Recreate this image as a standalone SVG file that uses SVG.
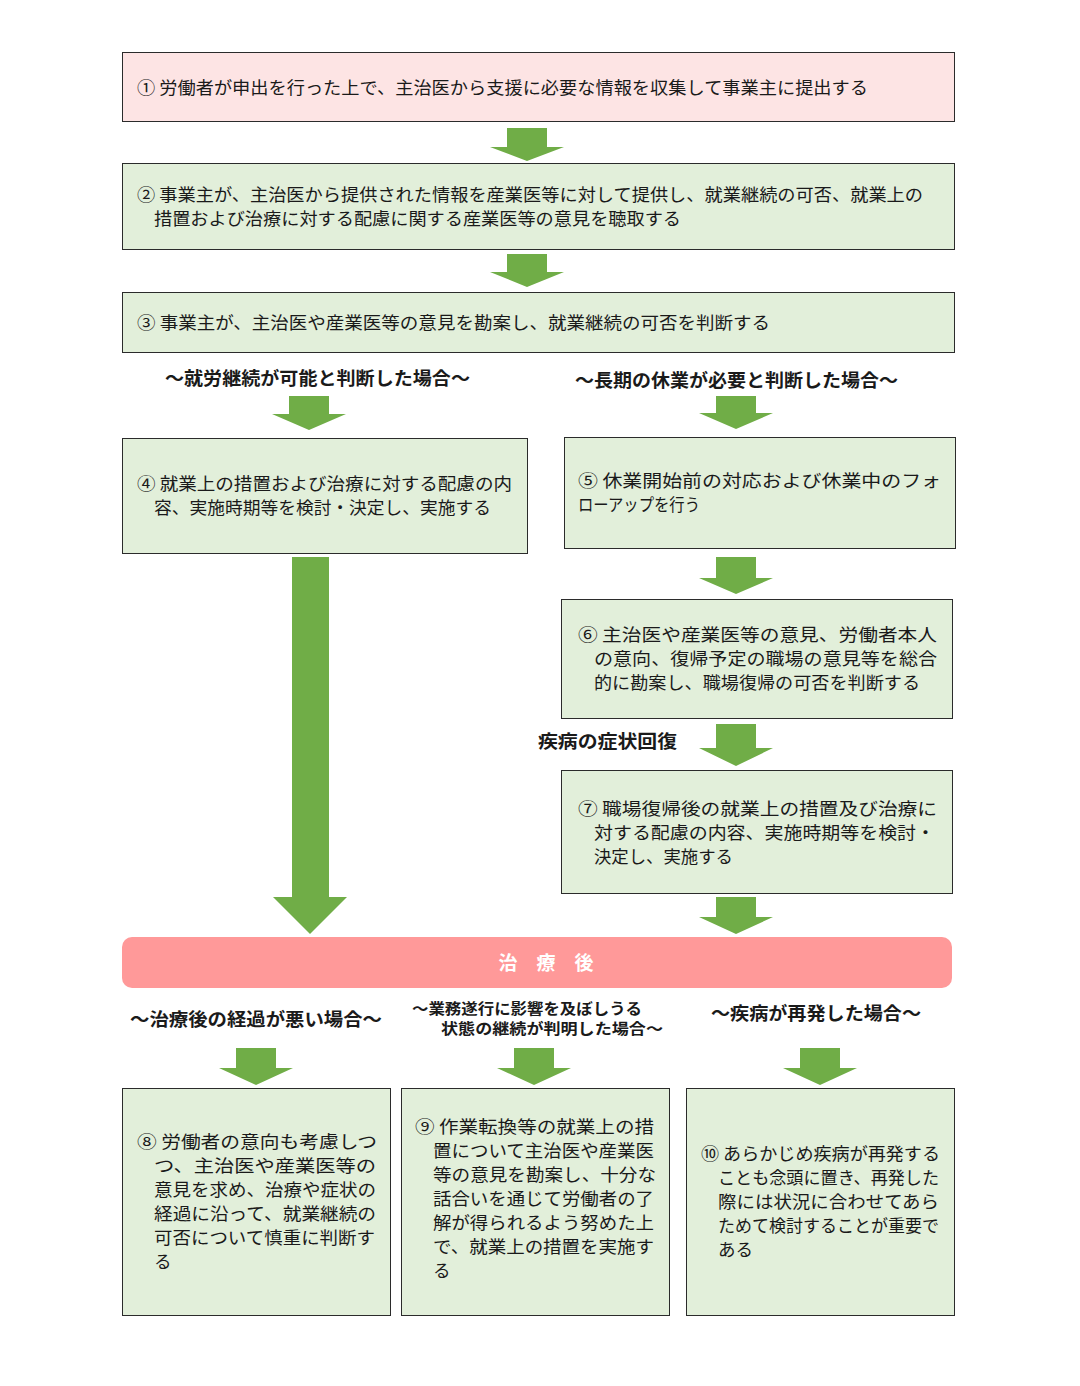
<svg xmlns="http://www.w3.org/2000/svg" width="1080" height="1386" viewBox="0 0 1080 1386">
<style>
text{font-family:"Noto Sans CJK JP","Noto Sans",sans-serif;fill:#1a1a1a;font-size:17.5px}
.bx{fill:#e2efda;stroke:#2b2b2b;stroke-width:1}
.pk{fill:#fde4e4;stroke:#2b2b2b;stroke-width:1}
.ar{fill:#70ad47}
.lb{font-weight:bold;font-size:18px}
.lb2{font-weight:bold;font-size:15px}
</style>
<rect width="1080" height="1386" fill="#ffffff"/>
<g id="connectors">
<polygon class="ar" points="507,128 547,128 547,147 564,147 527,161 490,147 507,147"/>
<polygon class="ar" points="507,254 547,254 547,272 564,272 527,287 490,272 507,272"/>
<polygon class="ar" points="289,396 329,396 329,414 346,414 309,430 272,414 289,414"/>
<polygon class="ar" points="716,396 756,396 756,413 773,413 736,429 699,413 716,413"/>
<polygon class="ar" points="716,557 756,557 756,578 773,578 736,594 699,578 716,578"/>
<polygon class="ar" points="716,724 756,724 756,748 773,748 736,766 699,748 716,748"/>
<polygon class="ar" points="716,897 756,897 756,917 773,917 736,934 699,917 716,917"/>
<polygon class="ar" points="292,557 329,557 329,897 347,897 310,934 273,897 292,897"/>
<polygon class="ar" points="236,1048 276,1048 276,1068 293,1068 256,1085 219,1068 236,1068"/>
<polygon class="ar" points="514,1048 554,1048 554,1068 571,1068 534,1085 497,1068 514,1068"/>
<polygon class="ar" points="800,1048 840,1048 840,1068 857,1068 820,1085 783,1068 800,1068"/>
</g>
<g id="n1">
<rect class="pk" x="122.5" y="52.5" width="832" height="69"/>
<text x="137" y="94" textLength="731" lengthAdjust="spacingAndGlyphs">① 労働者が申出を行った上で、主治医から支援に必要な情報を収集して事業主に提出する</text>
</g>
<g id="n2">
<rect class="bx" x="122.5" y="163.5" width="832" height="86"/>
<text x="137" y="201" textLength="786" lengthAdjust="spacingAndGlyphs">② 事業主が、主治医から提供された情報を産業医等に対して提供し、就業継続の可否、就業上の</text>
<text x="154" y="225" textLength="527" lengthAdjust="spacingAndGlyphs">措置および治療に対する配慮に関する産業医等の意見を聴取する</text>
</g>
<g id="n3">
<rect class="bx" x="122.5" y="292.5" width="832" height="60"/>
<text x="137" y="329" textLength="633" lengthAdjust="spacingAndGlyphs">③ 事業主が、主治医や産業医等の意見を勘案し、就業継続の可否を判断する</text>
</g>
<g id="labels-top">
<text class="lb" x="165" y="385" textLength="305" lengthAdjust="spacingAndGlyphs">～就労継続が可能と判断した場合～</text>
<text class="lb" x="575" y="387" textLength="323" lengthAdjust="spacingAndGlyphs">～長期の休業が必要と判断した場合～</text>
</g>
<g id="n4">
<rect class="bx" x="122.5" y="438.5" width="405" height="115"/>
<text x="137" y="490" textLength="375" lengthAdjust="spacingAndGlyphs">④ 就業上の措置および治療に対する配慮の内</text>
<text x="154" y="514" textLength="337" lengthAdjust="spacingAndGlyphs">容、実施時期等を検討・決定し、実施する</text>
</g>
<g id="n5">
<rect class="bx" x="564.5" y="437.5" width="391" height="111"/>
<text x="578" y="487" textLength="363" lengthAdjust="spacingAndGlyphs">⑤  休業開始前の対応および休業中のフォ</text>
<text x="578" y="511" textLength="122" lengthAdjust="spacingAndGlyphs">ローアップを行う</text>
</g>
<g id="n6">
<rect class="bx" x="561.5" y="599.5" width="391" height="119"/>
<text x="578" y="641" textLength="359" lengthAdjust="spacingAndGlyphs">⑥ 主治医や産業医等の意見、労働者本人</text>
<text x="594" y="665" textLength="343" lengthAdjust="spacingAndGlyphs">の意向、復帰予定の職場の意見等を総合</text>
<text x="594" y="689" textLength="326" lengthAdjust="spacingAndGlyphs">的に勘案し、職場復帰の可否を判断する</text>
</g>
<g id="label-recovery">
<text class="lb" x="538" y="748" textLength="139" lengthAdjust="spacingAndGlyphs">疾病の症状回復</text>
</g>
<g id="n7">
<rect class="bx" x="561.5" y="770.5" width="391" height="123"/>
<text x="578" y="815" textLength="359" lengthAdjust="spacingAndGlyphs">⑦ 職場復帰後の就業上の措置及び治療に</text>
<text x="594" y="839" textLength="341" lengthAdjust="spacingAndGlyphs">対する配慮の内容、実施時期等を検討・</text>
<text x="594" y="863" textLength="139" lengthAdjust="spacingAndGlyphs">決定し、実施する</text>
</g>
<g id="n-after">
<rect x="122" y="937" width="830" height="51" rx="10" ry="10" fill="#ff9999"/>
<text x="546" y="970" text-anchor="middle" style="fill:#ffffff;font-weight:bold;font-size:19px">治　療　後</text>
</g>
<g id="labels-bottom">
<text class="lb" x="130" y="1026" textLength="252" lengthAdjust="spacingAndGlyphs">～治療後の経過が悪い場合～</text>
<text class="lb2" x="412" y="1014" textLength="230" lengthAdjust="spacingAndGlyphs">～業務遂行に影響を及ぼしうる</text>
<text class="lb2" x="441" y="1034" textLength="222" lengthAdjust="spacingAndGlyphs">状態の継続が判明した場合～</text>
<text class="lb" x="711" y="1020" textLength="210" lengthAdjust="spacingAndGlyphs">～疾病が再発した場合～</text>
</g>
<g id="n8">
<rect class="bx" x="122.5" y="1088.5" width="268" height="227"/>
<text x="137" y="1148" textLength="240" lengthAdjust="spacingAndGlyphs">⑧  労働者の意向も考慮しつ</text>
<text x="154" y="1172" textLength="222" lengthAdjust="spacingAndGlyphs">つ、主治医や産業医等の</text>
<text x="154" y="1196" textLength="222" lengthAdjust="spacingAndGlyphs">意見を求め、治療や症状の</text>
<text x="154" y="1220" textLength="222" lengthAdjust="spacingAndGlyphs">経過に沿って、就業継続の</text>
<text x="154" y="1244" textLength="221" lengthAdjust="spacingAndGlyphs">可否について慎重に判断す</text>
<text x="154" y="1268">る</text>
</g>
<g id="n9">
<rect class="bx" x="401.5" y="1088.5" width="268" height="227"/>
<text x="415" y="1133" textLength="239" lengthAdjust="spacingAndGlyphs">⑨ 作業転換等の就業上の措</text>
<text x="433" y="1157" textLength="221" lengthAdjust="spacingAndGlyphs">置について主治医や産業医</text>
<text x="433" y="1181" textLength="223" lengthAdjust="spacingAndGlyphs">等の意見を勘案し、十分な</text>
<text x="433" y="1205" textLength="221" lengthAdjust="spacingAndGlyphs">話合いを通じて労働者の了</text>
<text x="433" y="1229" textLength="221" lengthAdjust="spacingAndGlyphs">解が得られるよう努めた上</text>
<text x="433" y="1253" textLength="221" lengthAdjust="spacingAndGlyphs">で、就業上の措置を実施す</text>
<text x="433" y="1277">る</text>
</g>
<g id="n10">
<rect class="bx" x="686.5" y="1088.5" width="268" height="227"/>
<text x="701" y="1160" textLength="239" lengthAdjust="spacingAndGlyphs">⑩  あらかじめ疾病が再発する</text>
<text x="718" y="1184" textLength="221" lengthAdjust="spacingAndGlyphs">ことも念頭に置き、再発した</text>
<text x="718" y="1208" textLength="221" lengthAdjust="spacingAndGlyphs">際には状況に合わせてあら</text>
<text x="718" y="1232" textLength="221" lengthAdjust="spacingAndGlyphs">ためて検討することが重要で</text>
<text x="718" y="1256">ある</text>
</g>
</svg>
